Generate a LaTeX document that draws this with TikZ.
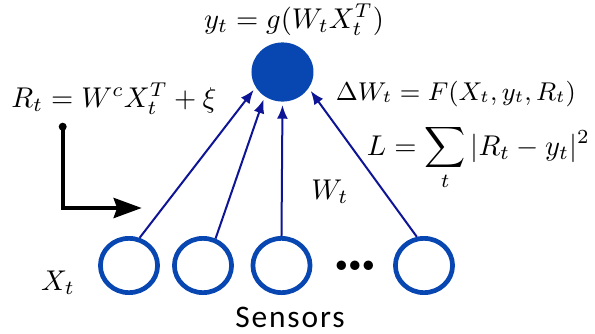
\documentclass[tikz,border=0pt]{standalone}
\usepackage{amsmath, amssymb}
\usepackage{fontspec}
\usepackage{tikz}
\usetikzlibrary{arrows.meta, shapes.geometric}
\newfontfamily\sensorfont[LetterSpace=6]{Carlito}
\definecolor{sensorblue}{RGB}{8,70,178}
\definecolor{linkblue}{RGB}{14,20,150}

\begin{document}
\begin{tikzpicture}[x=0.35pt, y=-0.35pt,
  sensor/.style={ellipse, draw=sensorblue, line width=1.65pt, minimum width=20pt, minimum height=19pt, inner sep=0pt},
  neuron/.style={ellipse, fill=sensorblue, minimum width=21.7pt, minimum height=20.7pt, inner sep=0pt},
  link/.style={linkblue, line width=0.7pt, -{Latex[length=4.8pt,width=3.8pt]}, shorten >=1pt}]
\useasboundingbox (0,0) rectangle (595,333);

% Output neuron
\node[neuron] (out) at (282.5,72) {};
\node[anchor=base] (yeq) at (294,28) {$y_t = g(W_t X_t^T)$};

% Sensors
\node[sensor] (s1) at (129,265.5) {};
\node[sensor] (s2) at (203,265.5) {};
\node[sensor] (s3) at (281.5,265.5) {};
\node[font=\footnotesize] (dots) at (355,266) {$\bullet\!\bullet\!\bullet$};
\node[sensor] (s4) at (424,265.5) {};
\node[anchor=base] (xt) at (58,290) {$X_t$};
\node[anchor=base] (sensors) at (290,327) {\sensorfont\fontsize{11}{13}\selectfont Sensors};

% Weights
\draw[link] (s1.69) -- (out.210);
\draw[link] (s2.65) -- (out.234);
\draw[link] (s3.90) -- (out.270);
\draw[link] (s4.104) -- (out.328);
\node[anchor=base] (wt) at (330,199) {$W_t$};

% Reward and learning rule
\node[anchor=base] (req) at (114,107) {$R_t = W^c X_t^T + \xi$};
\node[anchor=base, font=\fontsize{9.2}{11}\selectfont] (dw) at (456,100) {$\Delta W_t = F(X_t, y_t, R_t)$};
\node[anchor=base] (loss) at (478.5,155) {$\displaystyle L = \sum_t |R_t - y_t|^2$};

% Reward signal
\coordinate (rstart) at (62.7,126.7);
\coordinate (rend) at (141.7,208);
\fill (rstart) circle (1.4pt);
\draw[line width=1.4pt, -{Stealth[length=9.8pt,width=7pt,inset=1.2pt]}] (rstart) |- (rend);
\end{tikzpicture}
\end{document}
